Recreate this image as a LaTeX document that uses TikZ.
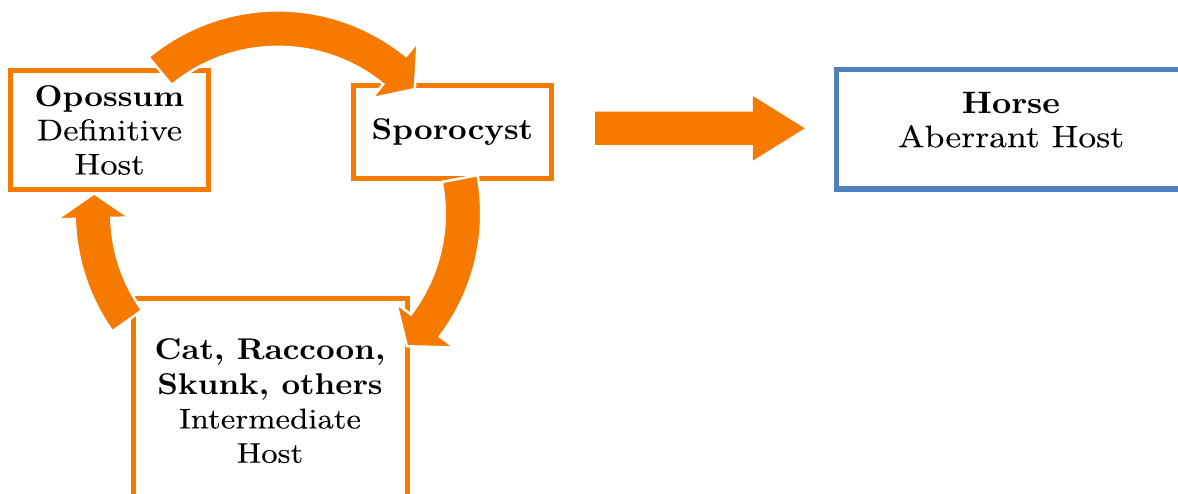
\documentclass[tikz,border=0pt]{standalone}
\usepackage{fontspec}
\setmainfont{lmroman10-regular}[Extension=.otf, BoldFont=lmroman10-bold, FakeStretch=1.08]
\newfontfamily\rgfont{lmroman10-regular}[Extension=.otf, FakeStretch=1.15, FakeBold=0.08]
\usetikzlibrary{calc}
\definecolor{arrorange}{RGB}{246,122,0}
\definecolor{boxblue}{RGB}{79,129,189}
\tikzset{
  hostbox/.style={draw=arrorange, line width=5pt, fill=white, align=center, inner sep=0pt},
  cyclearrow/.style={fill=arrorange, draw=white, line width=2.5pt, line join=miter},
  blockarrow/.style={fill=arrorange},
}
% #1 tail angle, #2 head base angle, #3 tip angle
\newcommand{\cycarrow}[3]{%
  \filldraw[cyclearrow] ($(cyc)+(#1:203.25pt)$) arc[start angle=#1, end angle=#2, radius=203.25pt]
    -- ($(cyc)+(#2:221.5pt)$) -- ($(cyc)+(#3:185pt)$) -- ($(cyc)+(#2:148.5pt)$)
    -- ($(cyc)+(#2:166.75pt)$) arc[start angle=#2, end angle=#1, radius=166.75pt] -- cycle;}
\begin{document}
\begin{tikzpicture}[x=1pt,y=1pt]
\useasboundingbox (0,0) rectangle (1178,-493);
\clip (0,0) rectangle (1178,-493);

% boxes
\node[hostbox, minimum width=198pt, minimum height=119pt,
      font=\fontsize{30}{34.2}\selectfont] (opossum) at (109.5,-130)
      {\textbf{Opossum}\\{\rgfont Definitive}\\{\rgfont Host}};
\node[hostbox, minimum width=198pt, minimum height=93pt,
      font=\fontsize{30}{34.2}\selectfont] (spor) at (452.5,-132)
      {\textbf{Sporocyst}};
\node[hostbox, minimum width=274pt, minimum height=205pt,
      font=\fontsize{30}{34.3}\selectfont] (cat) at (270,-401)
      {\textbf{Cat, Raccoon,}\\\textbf{Skunk, others}\\{\fontsize{28.5}{34.3}\rgfont Intermediate}\\{\fontsize{28.5}{34.3}\rgfont Host}};
\node[hostbox, draw=boxblue, line width=5.5pt, minimum width=349pt, minimum height=119.5pt] (horse) at (1011,-129.25) {};
\node[align=center, inner sep=0pt, font=\fontsize{31}{34}\selectfont] (horsetext) at ($(horse.center)+(0,9.5)$)
      {\textbf{Horse}\\{\rgfont Aberrant Host}};

% cycle arrows
\coordinate (cyc) at (278,-213.6);
\cycarrow{129.6}{50.9}{42.3}
\cycarrow{10.9}{-37.2}{-45.8}
\cycarrow{215.4}{181.5}{173.7}

% straight arrow Sporocyst -> Horse
\coordinate (sa) at ($(spor.east)+(41,3.7)$);
\coordinate (sb) at ($(horse.west)+(-29,0)$);
\coordinate (st) at (sa -| sb);
\fill[blockarrow] ($(sa)+(0,16.65)$) -- ($(st)+(-52,16.65)$) -- ($(st)+(-52,32.35)$) -- (st)
  -- ($(st)+(-52,-32.35)$) -- ($(st)+(-52,-16.65)$) -- ($(sa)+(0,-16.65)$) -- cycle;
\end{tikzpicture}
\end{document}
